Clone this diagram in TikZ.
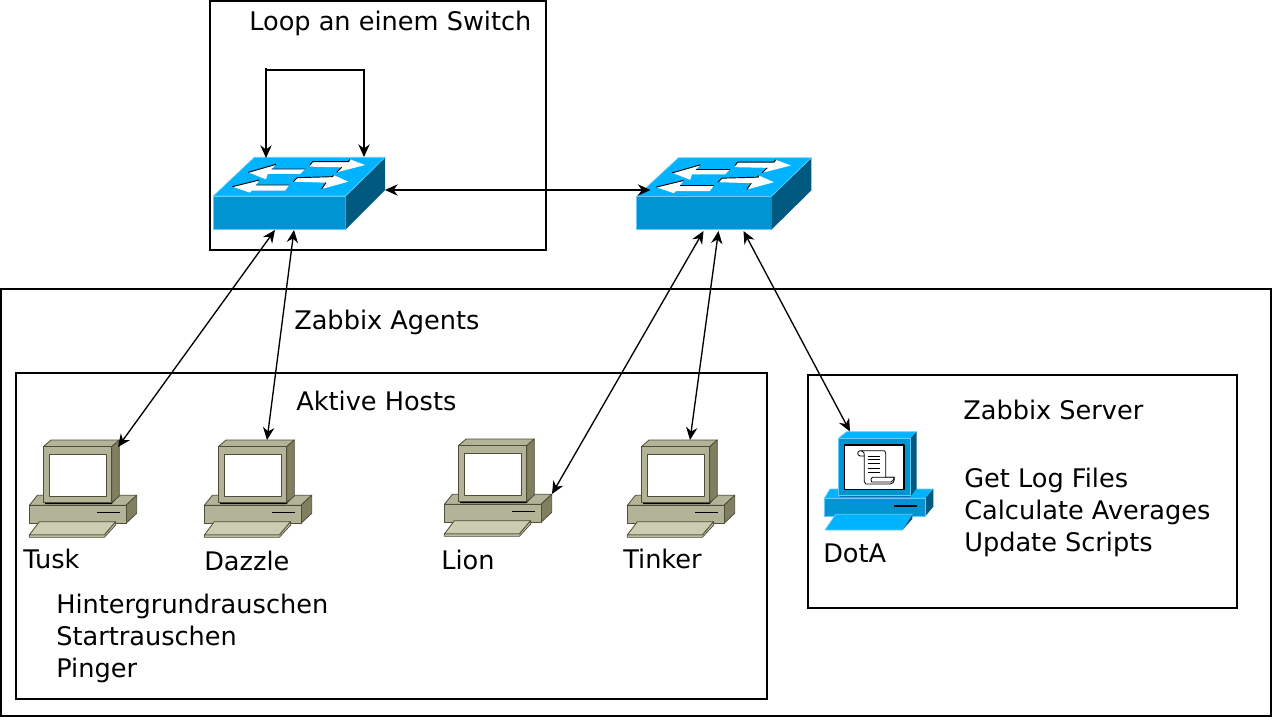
\documentclass[tikz,border=0pt]{standalone}
\usepackage{fontspec}
\setmainfont{DejaVu Sans}
\usetikzlibrary{arrows.meta,calc}
\definecolor{swtop}{HTML}{00B3FF}
\definecolor{swfront}{HTML}{0095D2}
\definecolor{swside}{HTML}{005A80}
\definecolor{swedge}{HTML}{66CCFF}
\definecolor{pcfront}{HTML}{B3B398}
\definecolor{pcside}{HTML}{808060}
\definecolor{pckey}{HTML}{CCCCB0}
\definecolor{pcedge}{HTML}{4D4D3A}
\tikzset{
  x=0.75pt,y=-0.75pt,
  frame/.style={draw=black,line width=1.5pt},
  label/.style={anchor=base west,inner sep=0pt,font=\fontsize{19.2pt}{22pt}\selectfont},
  link/.style={draw=black,line width=1pt,{Stealth[length=9.5pt,width=8.5pt]}-{Stealth[length=9.5pt,width=8.5pt]}},
  oneway/.style={draw=black,line width=1pt,-{Stealth[length=9.5pt,width=8.5pt]}},
  icon/.style={inner sep=0pt,outer sep=0pt,minimum width=#1},
  pics/switch/.style={code={
    \begin{scope}[scale=1/3,line width=0.5pt,draw=swedge]
      \filldraw[fill=swtop] (40,168)--(163,52)--(555,52)--(437,168)--cycle;
      \filldraw[fill=swfront] (40,168)--(437,168)--(437,268)--(40,268)--cycle;
      \fill[swside] (437,168)--(555,52)--(555,150)--(437,268)--cycle;
      \draw (437,168)--(555,52);
      \fill[white] (145,97)--(228,73)--(215,87)--(315,87)--(300,102)--(203,102)--(198,118)--cycle;
      \fill[white] (330,75)--(338,65)--(445,65)--(450,58)--(495,75)--(410,97)--(425,82)--(330,80)--cycle;
      \fill[white] (97,140)--(178,120)--(168,135)--(268,135)--(255,152)--(155,152)--(150,158)--cycle;
      \fill[white] (280,125)--(292,113)--(398,110)--(400,105)--(445,125)--(365,147)--(378,128)--cycle;
      \draw[black,line width=0.7pt] (145,97)--(228,73) (215,87)--(315,87) (330,75)--(338,65)--(445,65)--(450,58) (425,82)--(410,97) (97,140)--(178,120) (168,135)--(268,135) (280,125)--(292,113)--(398,110)--(400,105) (378,128)--(365,147);
    \end{scope}}},
  pics/computer/.style={code={
    \begin{scope}[scale=1/3,line width=0.6pt,draw=pcedge,line join=round]
      \filldraw[fill=pcfront] (28,226)--(52,196)--(350,196)--(318,226)--cycle;
      \filldraw[fill=pcside] (318,226)--(350,196)--(350,250)--(318,280)--cycle;
      \filldraw[fill=pcfront] (28,226)--(318,226)--(318,280)--(28,280)--cycle;
      \draw[black,line width=0.9pt] (232,248)--(300,248);
      \filldraw[fill=pckey] (28,315)--(58,275)--(287,275)--(253,315)--cycle;
      \filldraw[fill=pckey] (28,315)--(253,315)--(287,275)--(287,285)--(253,322)--(28,322)--cycle;
      \fill[black] (75,218)--(275,218)--(298,196)--(275,222)--(75,222)--cycle;
      \filldraw[fill=pcfront] (70,50)--(93,30)--(298,30)--(275,50)--cycle;
      \filldraw[fill=pcside] (275,50)--(298,30)--(298,198)--(275,218)--cycle;
      \filldraw[fill=pcfront] (70,50)--(275,50)--(275,218)--(70,218)--cycle;
      \filldraw[fill=white] (88,73)--(260,73)--(260,200)--(88,200)--cycle;
    \end{scope}}},
  pics/serverpc/.style={code={
    \begin{scope}[scale=1/3,line width=0.6pt,draw=swedge,line join=round]
      \filldraw[fill=swtop] (28,235)--(45,207)--(355,207)--(330,235)--cycle;
      \fill[swside] (330,235)--(355,207)--(355,260)--(330,290)--cycle;
      \filldraw[fill=swfront] (28,235)--(330,235)--(330,290)--(28,290)--cycle;
      \draw[black,line width=0.9pt] (238,258)--(305,258);
      \filldraw[fill=swtop] (30,330)--(62,283)--(292,283)--(262,330)--cycle;
      \fill[swside] (262,330)--(292,283)--(292,297)--(262,330)--cycle;
      \fill[black] (75,225)--(285,225)--(305,205)--(285,229)--(75,229)--cycle;
      \filldraw[fill=swtop] (70,55)--(95,35)--(305,35)--(285,55)--cycle;
      \fill[swside] (285,55)--(305,35)--(305,205)--(285,225)--cycle;
      \filldraw[fill=swfront] (70,55)--(285,55)--(285,225)--(70,225)--cycle;
      \draw[black,line width=0.9pt,fill=white] (88,75)--(267,75)--(267,208)--(88,208)--cycle;
      \begin{scope}[black,line width=0.6pt]
        \draw[fill=white] (148,108)--(148,185) .. controls (148,192) and (155,194) .. (162,192)--(225,192) .. controls (235,190) and (238,185) .. (238,172)--(212,172)--(212,100) .. controls (212,93) and (208,92) .. (205,92)--(135,92) .. controls (126,94) and (126,106) .. (135,108)--cycle;
        \draw (148,108) .. controls (150,100) and (146,94) .. (138,92);
        \draw[fill=white] (172,172)--(238,172) .. controls (236,180) and (232,184) .. (228,186)--(170,186) .. controls (165,180) and (168,175) .. (172,172)--cycle;
        \draw (158,108)--(195,108) (158,118)--(195,118) (158,130)--(195,130) (158,145)--(195,145) (158,157)--(195,157);
      \end{scope}
    \end{scope}}}
}
\begin{document}
\begin{tikzpicture}
\useasboundingbox (0,0) rectangle (1273,720);
% frames
\draw[frame] (1,289) rectangle (1271,716);
\draw[frame] (16,373) rectangle (767,699);
\draw[frame] (808,375) rectangle (1237,608);
\draw[frame] (210,1) rectangle (546,250);
% icons
\pic at (200,140) {switch};
\pic[xscale=1.017] at (623.1,140.5) {switch};
\pic at (20,430) {computer};
\pic at (195,430) {computer};
\pic at (435,429) {computer};
\pic at (618,430) {computer};
\pic at (815,420) {serverpc};
% anchors: invisible boxes around the icons
\node[icon=172*0.75pt,minimum height=73*0.75pt] (sw1) at (299,193.5) {};
\node[icon=172*0.75pt,minimum height=73*0.75pt] (sw2) at (723.5,193.5) {};
\node[icon=108*0.75pt,minimum height=98*0.75pt] (tusk) at (83,489) {};
\node[icon=108*0.75pt,minimum height=98*0.75pt] (dazzle) at (258,489) {};
\node[icon=108*0.75pt,minimum height=98*0.75pt] (lion) at (498,488) {};
\node[icon=108*0.75pt,minimum height=98*0.75pt] (tinker) at (681,489) {};
\node[icon=110*0.75pt,minimum height=99*0.75pt] (dota) at (879,481) {};
% loop
\coordinate (looptop) at ($(sw1.north west)+(53,-89)$);
\draw[oneway] (looptop) -- ($(sw1.north west)+(53,1)$);
\draw[oneway] ($(looptop)+(0,2)$) -- ++(98,0) -- ($(sw1.north west)+(151,0)$);
% connectors
\draw[link] ($(sw1.east)+(0,-3.5)$) -- ($(sw2.west)+(13,-3.5)$);
\draw[link] ($(sw1.south west)+(62,0)$) -- ($(tusk.north east)+(-19,7)$);
\draw[link] ($(sw1.south west)+(81,0)$) -- ($(dazzle.north west)+(63,0)$);
\draw[link] ($(sw2.south west)+(66,1)$) -- ($(lion.north east)+(0,55)$);
\draw[link] ($(sw2.south west)+(81,1)$) -- ($(tinker.north west)+(63,0)$);
\draw[link] ($(sw2.south west)+(106,1)$) -- ($(dota.north west)+(26,0)$);
% labels
\node[label] (t1) at (249,31) {Loop an einem Switch};
\node[label] (t2) at (294,329.5) {Zabbix Agents};
\node[label] (t3) at (296,410) {Aktive Hosts};
\node[label] (t4) at (963,419) {Zabbix Server};
\node[label] (t5) at (964,487) {Get Log Files};
\node[label] (t6) at (964,519) {Calculate Averages};
\node[label] (t7) at (964,551) {Update Scripts};
\node[label] (t8) at (23,568) {Tusk};
\node[label] (t9) at (204,570) {Dazzle};
\node[label] (t10) at (441,569.5) {Lion};
\node[label] (t11) at (623,568) {Tinker};
\node[label] (t12) at (823,562) {DotA};
\node[label] (t13) at (56,613.5) {Hintergrundrauschen};
\node[label] (t14) at (56,645.5) {Startrauschen};
\node[label] (t15) at (56,677.5) {Pinger};
\end{tikzpicture}
\end{document}
